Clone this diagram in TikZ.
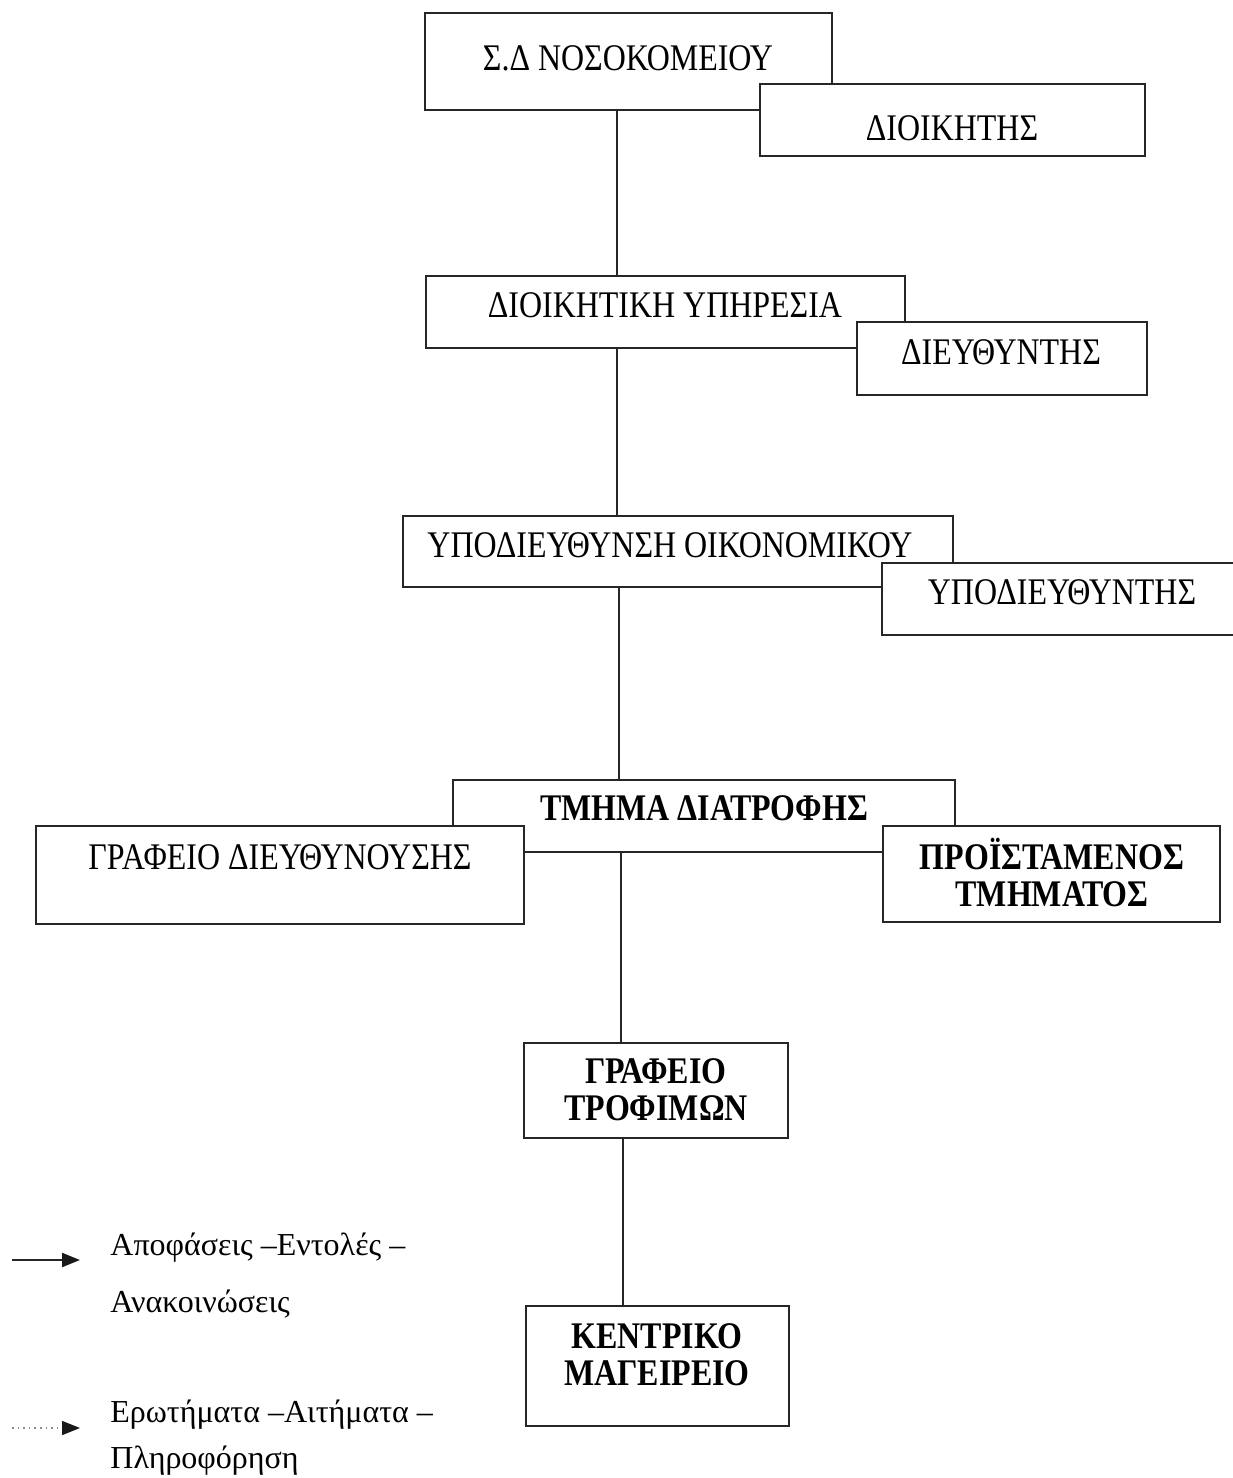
\documentclass[tikz,border=0pt]{standalone}
\usepackage{fontspec}
\setmainfont{Liberation Serif}[FakeStretch=0.85]
\newfontfamily\legendfont{Liberation Serif}
\usetikzlibrary{fit,arrows.meta}

\begin{document}
\begin{tikzpicture}[x=0.5pt,y=-0.5pt,
  box/.style={draw=black!85, line width=1.35pt, fill=white, inner sep=0pt},
  lbl/.style={inner sep=0pt, align=center, font=\fontsize{18.8pt}{18.5pt}\selectfont},
  lblb/.style={inner sep=0pt, align=center, font=\fontsize{18.8pt}{18.5pt}\selectfont\bfseries},
  link/.style={draw=black!85, line width=1.1pt},
  legtxt/.style={inner sep=0pt, anchor=base west, font=\legendfont\fontsize{16pt}{18pt}\selectfont},
  legarrow/.style={line width=1.1pt, -{Triangle[length=9pt,width=7pt,color=black!90]}}]

  % page area
  \path[use as bounding box, fill=white] (0,0) rectangle (1232,1478);

  % hierarchy boxes (later boxes cover the corners of earlier ones)
  \node[box, fit={(425,13) (832,110)}] (sd) {};
  \node[box, fit={(760,84) (1145,156)}] (dioik) {};
  \node[box, fit={(426,276) (905,348)}] (ypir) {};
  \node[box, fit={(857,322) (1147,395)}] (dieuth) {};
  \node[box, fit={(403,516) (953,587)}] (ypodieuth) {};
  \node[box, fit={(882,563) (1240,635)}] (ypodir) {};
  \node[box, fit={(453,780) (955,852)}] (tmima) {};
  \node[box, fit={(36,826) (524,924)}] (grafeio) {};
  \node[box, fit={(883,826) (1220,922)}] (proist) {};
  \node[box, fit={(524,1043) (788,1138)}] (trofimon) {};
  \node[box, fit={(526,1306) (789,1426)}] (mageireio) {};

  % box texts
  \node[lbl] (t-sd) at (628,58) {Σ.Δ ΝΟΣΟΚΟΜΕΙΟΥ};
  \node[lbl] (t-dioik) at (952,128) {ΔΙΟΙΚΗΤΗΣ};
  \node[lbl] (t-ypir) at (665,305) {ΔΙΟΙΚΗΤΙΚΗ ΥΠΗΡΕΣΙΑ};
  \node[lbl] (t-dieuth) at (1001,352) {ΔΙΕΥΘΥΝΤΗΣ};
  \node[lbl] (t-ypodieuth) at (670,545) {ΥΠΟΔΙΕΥΘΥΝΣΗ ΟΙΚΟΝΟΜΙΚΟΥ};
  \node[lbl] (t-ypodir) at (1062,592) {ΥΠΟΔΙΕΥΘΥΝΤΗΣ};
  \node[lblb] (t-tmima) at (704,808) {ΤΜΗΜΑ ΔΙΑΤΡΟΦΗΣ};
  \node[lbl] (t-grafeio) at (280,857) {ΓΡΑΦΕΙΟ ΔΙΕΥΘΥΝΟΥΣΗΣ};
  \node[lblb] (t-proist) at (1052,873) {ΠΡΟΪΣΤΑΜΕΝΟΣ\\ΤΜΗΜΑΤΟΣ};
  \node[lblb] (t-trofimon) at (656,1090) {ΓΡΑΦΕΙΟ\\ΤΡΟΦΙΜΩΝ};
  \node[lblb] (t-mageireio) at (657,1355) {ΚΕΝΤΡΙΚΟ\\ΜΑΓΕΙΡΕΙΟ};

  % vertical connectors
  \coordinate (k1) at (617,0);
  \coordinate (k2) at (617,0);
  \coordinate (k3) at (619,0);
  \coordinate (k4) at (621,0);
  \coordinate (k5) at (623,0);
  \draw[link] (sd.south -| k1) -- (ypir.north -| k1);
  \draw[link] (ypir.south -| k2) -- (ypodieuth.north -| k2);
  \draw[link] (ypodieuth.south -| k3) -- (tmima.north -| k3);
  \draw[link] (tmima.south -| k4) -- (trofimon.north -| k4);
  \draw[link] (trofimon.south -| k5) -- (mageireio.north -| k5);

  % legend
  \coordinate (l1a) at (12,1260);
  \coordinate (l1b) at (80,1260);
  \coordinate (l2a) at (12,1428);
  \coordinate (l2b) at (80,1428);
  \draw[legarrow, draw=black!85] (l1a) -- (l1b);
  \draw[legarrow, draw=black!45, line width=0.8pt, dotted] (l2a) -- (l2b);
  \node[legtxt] (leg1) at (110,1255) {Αποφάσεις –Εντολές –};
  \node[legtxt] (leg2) at (110,1312) {Ανακοινώσεις};
  \node[legtxt] (leg3) at (110,1422) {Ερωτήματα –Αιτήματα –};
  \node[legtxt] (leg4) at (110,1468) {Πληροφόρηση};
\end{tikzpicture}
\end{document}
